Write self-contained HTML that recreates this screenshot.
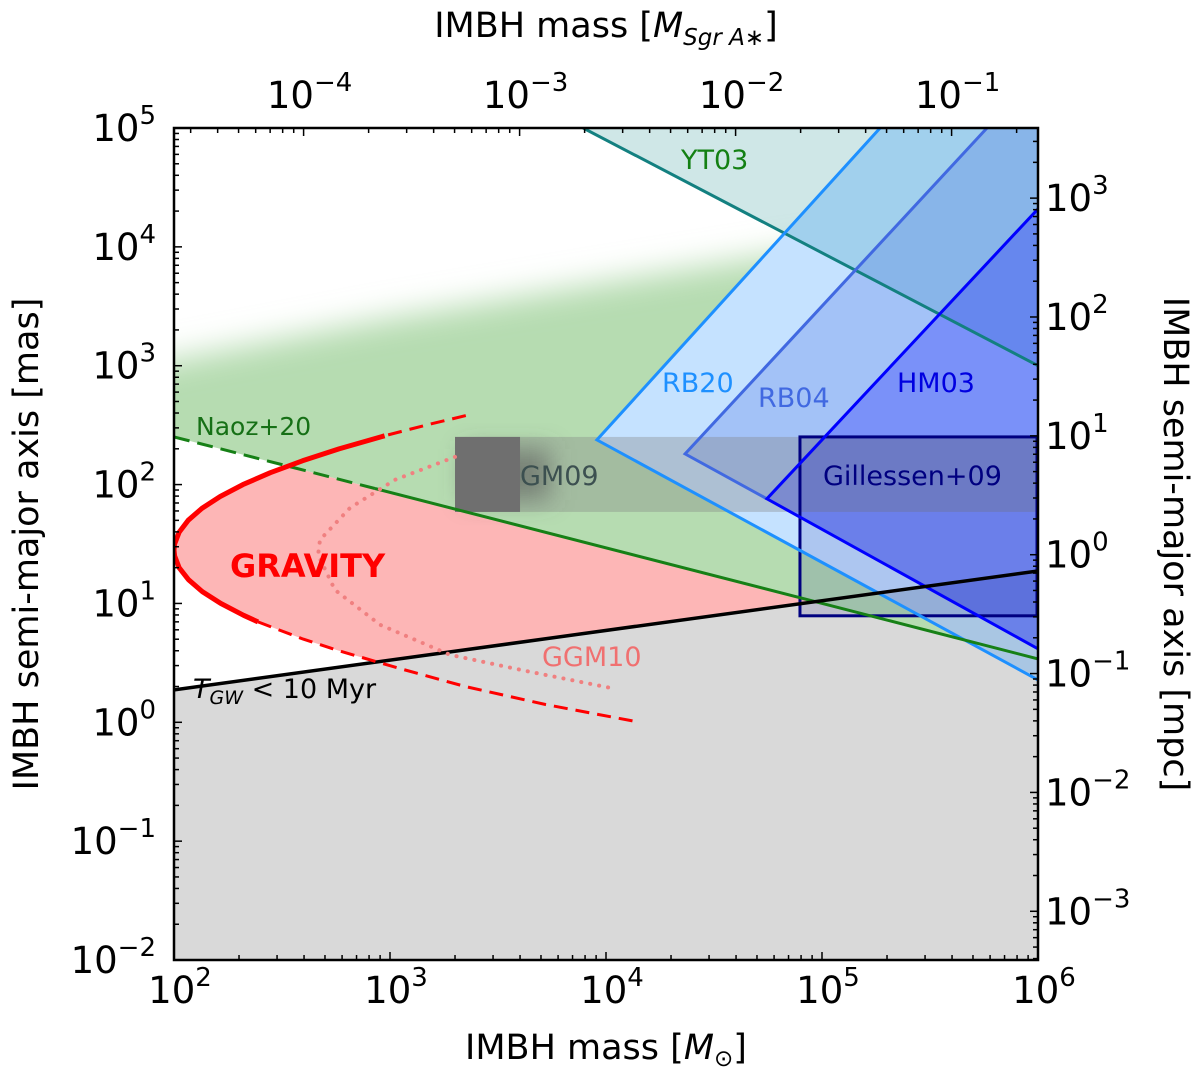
<!DOCTYPE html>
<html><head><meta charset="utf-8"><style>
html,body{margin:0;padding:0;background:#fff;}
svg{display:block;font-family:"DejaVu Sans","Liberation Sans",sans-serif;}
</style></head><body>
<svg id="chart" width="1200" height="1077" viewBox="0 0 1200 1077" xmlns="http://www.w3.org/2000/svg"></svg>
<script>
// ---- data (log10 values) ----
const xDecades = [2,3,4,5,6];
const yDecades = [5,4,3,2,1,0,-1,-2];
const topDecades = [-4,-3,-2,-1];
const rightDecades = [3,2,1,0,-1,-2,-3];
const sgrMassLog = 6.6;      // log10 M_SgrA*
const masPerMpcLog = 1.41;   // log10 mas per mpc
const tgwLine = [[2,0.273],[6,1.273]];
const naozLine = [[2,2.401],[6,0.533]];
const naozDashEnd = 2.93;
const greenTop = [[2,3.05],[3,3.40],[4,3.70],[4.85,3.95],[6,4.25]];
const gravityLogA = [2.58,2.5,2.41,2.3,2.2,2.1,2.0,1.9,1.8,1.7,1.6,1.5,1.45,1.4,1.3,1.2,1.1,1.0,0.9,0.845,0.7,0.6,0.45,0.3,0.15,0.0];
const gravityLogM = [3.351,3.167,2.975,2.764,2.595,2.446,2.319,2.214,2.129,2.066,2.024,2.003,2.0,2.003,2.024,2.067,2.131,2.216,2.322,2.389,2.598,2.767,3.05,3.35,3.72,4.157];
const ggm10 = [[3.301,2.233],[3.023,2.040],[2.815,1.804],[2.676,1.535],[2.667,1.409],[2.745,1.114],[2.954,0.820],[3.278,0.568],[3.648,0.425],[4.019,0.290]];
const yt03 = [[3.894,5],[6,3.0]];
const rb20 = [[5.269,5],[3.958,2.376],[6,0.357]];
const rb04 = [[5.764,5],[4.366,2.258],[6,0.618]];
const hm03 = [[6,4.319],[4.745,1.880],[6,0.618]];
const gm09Band = [3.301,6,1.770,2.401];
const gm09Square = [3.301,3.602,1.770,2.401];
const gillessen = [4.898,6,0.896,2.401];

// ---- axes ----
const X = lm => 174 + 216*(lm-2);
const Y = la => 128 + 118.86*(5-la);
const svg = document.getElementById('chart');
const NS = 'http://www.w3.org/2000/svg';
function el(tag, attrs, parent){const e=document.createElementNS(NS,tag);for(const k in attrs)e.setAttribute(k,attrs[k]);(parent||svg).appendChild(e);return e;}
const pts = arr => arr.map(p=>X(p[0]).toFixed(1)+','+Y(p[1]).toFixed(1)).join(' ');

const defs = el('defs',{});
const cp = el('clipPath',{id:'plotclip'},defs); el('rect',{x:174,y:128,width:864,height:832},cp);
const fb = el('filter',{id:'blur',x:'-20%',y:'-20%',width:'140%',height:'140%'},defs); el('feGaussianBlur',{stdDeviation:16},fb);
const fb2 = el('filter',{id:'blur2',x:'-50%',y:'-50%',width:'200%',height:'200%'},defs); el('feGaussianBlur',{stdDeviation:12},fb2);
const aboveGreen = el('clipPath',{id:'aboveGreen'},defs);
el('polygon',{points:pts([[2,naozLine[0][1]],[6,naozLine[1][1]],[6,5],[2,5]])},aboveGreen);
const leftRb = el('clipPath',{id:'leftRb'},defs);
el('polygon',{points:pts([[1.5,5.2],[rb20[0][0],5.2],rb20[0],rb20[1],rb20[2],[6.2,rb20[2][1]],[6.2,-3],[1.5,-3]])},leftRb);
const cross = (naozLine[0][1]-tgwLine[0][1])/((tgwLine[1][1]-tgwLine[0][1])/4 - (naozLine[1][1]-naozLine[0][1])/4)+2;
const naozAt = m => naozLine[0][1]+(naozLine[1][1]-naozLine[0][1])*(m-2)/4;
const tgwAt = m => tgwLine[0][1]+(tgwLine[1][1]-tgwLine[0][1])*(m-2)/4;
const between = el('clipPath',{id:'between'},defs);
el('polygon',{points:pts([[2,naozAt(2)],[cross,naozAt(cross)],[2,tgwAt(2)]])},between);

const g = el('g',{'clip-path':'url(#plotclip)'});



let e = el('polygon',{points:pts([tgwLine[0],tgwLine[1],[6,-3],[2,-3]]),fill:'#d9d9d9'},g);
 
const gg0 = el('g',{'clip-path':'url(#leftRb)'},g);
const gg = el('g',{'clip-path':'url(#aboveGreen)'},gg0);
e = el('polygon',{points:pts(greenTop.concat([[6.3,4.25],[6.3,-1],[1.8,-1],[1.8,2.95]])),fill:'#b6dcb1',filter:'url(#blur)'},gg);
 
const gravPts = gravityLogM.map((m,i)=>[m,gravityLogA[i]]);
const pg = el('g',{'clip-path':'url(#between)'},g);
e = el('polygon',{points:pts(gravPts.concat([[6,0.0],[6,2.58]])),fill:'#fdb6b6'},pg);
 
e = el('polygon',{points:pts([yt03[0],yt03[1],[6,5]]),fill:'rgba(0,128,128,0.19)'},g);
 
e = el('polygon',{points:pts(rb20.concat([[6,5]])),fill:'rgba(30,144,255,0.26)'},g);
 
e = el('polygon',{points:pts(rb04.concat([[6,5]])),fill:'rgba(65,105,225,0.26)'},g);
 
e = el('polygon',{points:pts(hm03),fill:'rgba(0,0,255,0.25)'},g);
 
e = el('rect',{x:X(gm09Band[0]),y:Y(gm09Band[3]),width:X(gm09Band[1])-X(gm09Band[0]),height:Y(gm09Band[2])-Y(gm09Band[3]),fill:'rgba(128,128,128,0.35)'},g);
 
e = el('rect',{x:X(gm09Square[0])+10,y:Y(gm09Square[3])+12,width:X(gm09Square[1])-X(gm09Square[0])+20,height:Y(gm09Square[2])-Y(gm09Square[3])-24,fill:'rgba(90,90,90,0.6)',filter:'url(#blur2)'},g);
 
e = el('rect',{x:X(gm09Square[0]),y:Y(gm09Square[3]),width:X(gm09Square[1])-X(gm09Square[0]),height:Y(gm09Square[2])-Y(gm09Square[3]),fill:'#6f6f6f'},g);
 
e = el('rect',{x:X(gillessen[0]),y:Y(gillessen[3]),width:X(gillessen[1])-X(gillessen[0])-1,height:Y(gillessen[2])-Y(gillessen[3]),fill:'rgba(0,0,128,0.12)',stroke:'#000080','stroke-width':3},g);
 

e = el('polyline',{points:pts(yt03),fill:'none',stroke:'#138080','stroke-width':3},g);
 
e = el('polyline',{points:pts(rb20),fill:'none',stroke:'#1e90ff','stroke-width':3},g);
 
e = el('polyline',{points:pts(rb04.slice(0,2).concat([hm03[1]])),fill:'none',stroke:'#4169e1','stroke-width':3},g);
 
e = el('polyline',{points:pts(hm03),fill:'none',stroke:'#0000ff','stroke-width':3},g);
 
e = el('polyline',{points:pts([[2,naozAt(2)],[naozDashEnd,naozAt(naozDashEnd)]]),fill:'none',stroke:'#168016','stroke-width':3,'stroke-dasharray':'16,8'},g);
 
e = el('polyline',{points:pts([[naozDashEnd,naozAt(naozDashEnd)],[6,naozAt(6)]]),fill:'none',stroke:'#168016','stroke-width':3},g);
 
e = el('polyline',{points:pts(tgwLine),fill:'none',stroke:'#000','stroke-width':3.5},g);
 
e = el('polyline',{points:pts(ggm10),fill:'none',stroke:'#f08080','stroke-width':4,'stroke-dasharray':'0.1,9','stroke-linecap':'round'},g);
 
e = el('polyline',{points:pts(gravPts.slice(0,3)),fill:'none',stroke:'#f00','stroke-width':3,'stroke-dasharray':'14,8'},g);
 
e = el('polyline',{points:pts(gravPts.slice(19)),fill:'none',stroke:'#f00','stroke-width':3,'stroke-dasharray':'14,8'},g);
 
e = el('polyline',{points:pts(gravPts.slice(2,20)),fill:'none',stroke:'#f00','stroke-width':5,'stroke-linejoin':'round'},g);
 

function lab(txt,x,y,color,size,name,extra){const t=el('text',Object.assign({x:x,y:y,fill:color,'font-size':size},extra||{}));t.textContent=txt;return t;}
lab('YT03',681,169,'#138013',27,'yt03-label');
lab('Naoz+20',196,435,'#167016',25,'naoz-label');
lab('RB20',662,392,'#1e90ff',27,'rb20-label');
lab('RB04',758,407,'#4169e1',27,'rb04-label');
lab('HM03',897,392,'#0000e0',27,'hm03-label');
lab('Gillessen+09',823,485,'#000080',27,'gillessen-label');
lab('GM09',520,485,'#3c5050',27,'gm09-label');
lab('GRAVITY',230,577,'#f00',32,'gravity-label',{'font-weight':'bold'});
lab('GGM10',542,666,'#f07070',27,'ggm10-label');
const tg = lab('',193,698,'#000',27,'tgw-label');
tg.innerHTML='<tspan font-style="italic">T</tspan><tspan font-style="italic" font-size="19" dy="6">GW</tspan><tspan dy="-6"> &lt; 10 Myr</tspan>';

e = el('rect',{x:174,y:128,width:864,height:832,fill:'none',stroke:'#000','stroke-width':2.5});
 

function tick(x1,y1,x2,y2){el('line',{x1:x1,y1:y1,x2:x2,y2:y2,stroke:'#000','stroke-width':1.5});}
const minors=[2,3,4,5,6,7,8,9];
xDecades.forEach(d=>{tick(X(d),960,X(d),952); if(d<6) minors.forEach(m=>{const x=X(d+Math.log10(m));tick(x,960,x,955);});});
yDecades.forEach(d=>{tick(174,Y(d),182,Y(d)); if(d>-2) minors.forEach(m=>{const y=Y(d-1+Math.log10(m));tick(174,y,179,y);});});
for(let d=-5;d<=0;d++){ [1,2,3,4,5,6,7,8,9].forEach(m=>{const x=X(d+Math.log10(m)+sgrMassLog); if(x>174&&x<1038) tick(x,128,x,m===1?136:133);}); }
for(let d=-4;d<=4;d++){ [1,2,3,4,5,6,7,8,9].forEach(m=>{const y=Y(d+Math.log10(m)+masPerMpcLog); if(y>128&&y<960) tick(1038,y,m===1?1030:1033,y);}); }

function pow(x,y,exp,anchor,name){
  const t=el('text',{x:x,y:y,'font-size':37,'text-anchor':anchor,fill:'#000'});
  t.innerHTML='10<tspan dy="-17" font-size="26">'+(exp<0?'\u2212'+(-exp):exp)+'</tspan>';
   
}
xDecades.forEach(d=>pow(X(d)+6,1003,d,'middle','x-tick-'+d));
yDecades.forEach(d=>pow(156,Y(d)+13,d,'end','y-tick-'+d));
topDecades.forEach(d=>pow(X(d+sgrMassLog)+6,108,d,'middle','top-tick-'+d));
rightDecades.forEach(d=>pow(1045,Y(d+masPerMpcLog)+13,d,'start','right-tick-'+d));

let t=el('text',{x:606,y:1059,'font-size':35,'text-anchor':'middle'});
t.innerHTML='IMBH mass [<tspan font-style="italic">M</tspan><tspan font-size="23" dy="7">\u2299</tspan><tspan dy="-7">]</tspan>';
 
t=el('text',{x:606,y:37,'font-size':35,'text-anchor':'middle'});
t.innerHTML='IMBH mass [<tspan font-style="italic">M</tspan><tspan font-size="23" dy="8" font-style="italic">Sgr A\u2217</tspan><tspan dy="-8">]</tspan>';
 
t=el('text',{x:0,y:0,'font-size':35,'text-anchor':'middle',transform:'translate(38,544) rotate(-90)'});
t.textContent='IMBH semi-major axis [mas]';
 
t=el('text',{x:0,y:0,'font-size':35,'text-anchor':'middle',transform:'translate(1164,544) rotate(90)'});
t.textContent='IMBH semi-major axis [mpc]';
 
</script>
</body></html>
